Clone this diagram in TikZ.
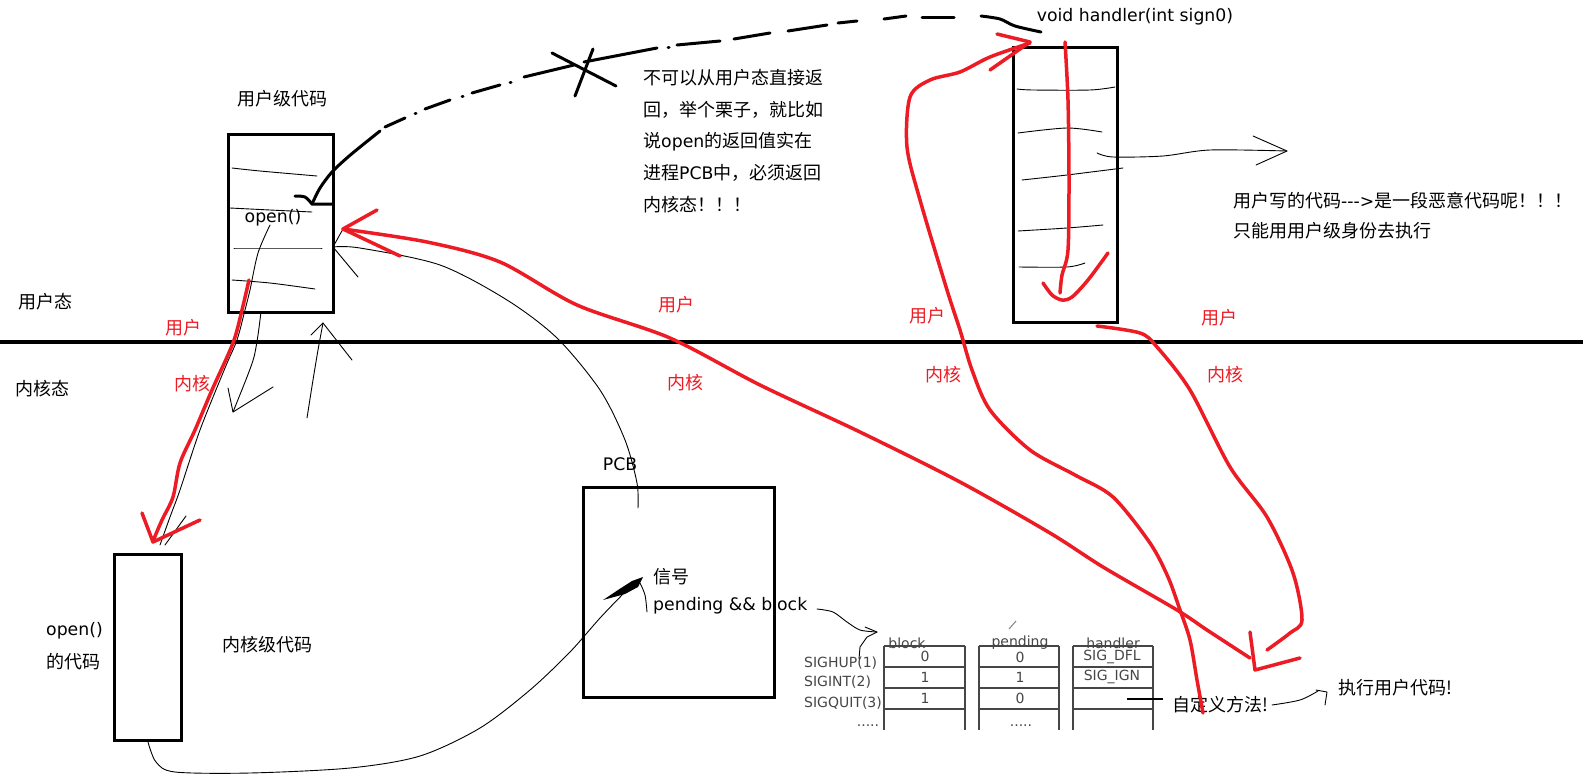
\documentclass[tikz,border=0pt]{standalone}
\usepackage{fontspec}
\setmainfont{Noto Sans CJK SC}
\newfontfamily\lat[Scale=0.96]{DejaVu Sans}
\newfontfamily\tabfont{DejaVu Sans}
\definecolor{pred}{RGB}{237,28,36}
\definecolor{tgray}{RGB}{70,70,70}
\begin{document}
\begin{tikzpicture}[x=1pt,y=-1pt,
  txt/.style={font=\fontsize{18}{22}\selectfont, inner sep=0pt},
  rtxt/.style={txt, text=pred},
  box/.style={draw, line width=3pt, inner sep=0pt, fill=none},
  thinl/.style={line width=0.9pt, line cap=round, line join=round},
  redl/.style={draw=pred, line width=3.5pt, line cap=round, line join=round},
  blk/.style={line width=3pt, line cap=round, line join=round},
  tabl/.style={draw=tgray, line width=2pt},
  ttxt/.style={font=\tabfont\fontsize{14}{16}\selectfont, text=tgray, inner sep=0pt}]

\useasboundingbox (0,0) rectangle (1583,777);
\fill[white] (0,0) rectangle (1583,777);

% divider
\coordinate (L) at (0,342);
\coordinate (R) at (1583,342);
\draw[line width=4pt] (L) -- (R);

% boxes
\node[box, minimum width=105pt, minimum height=178pt] (ubox) at (280.5,223) {};
\node[box, minimum width=67pt, minimum height=186pt] (kbox) at (147.5,647) {};
\node[box, minimum width=191pt, minimum height=210pt] (pcb) at (678.5,592) {};
\node[box, minimum width=104pt, minimum height=275pt] (hbox) at (1065,184.5) {};

% user box inner lines
\draw[thinl] plot[smooth] coordinates {(232,168) (260,171) (317,176)};
\draw[thinl] plot[smooth] coordinates {(230,208) (270,210) (312,212)};
\draw[thinl] plot[smooth] coordinates {(234,248) (280,248) (322,248)};
\draw[thinl] plot[smooth] coordinates {(232,280) (270,283) (315,289)};

% handler box inner lines
\draw[thinl] plot[smooth] coordinates {(1017,89) (1033,90) (1090,90) (1115,87)};
\draw[thinl] plot[smooth] coordinates {(1018,133) (1067,128) (1102,132)};
\draw[thinl] plot[smooth] coordinates {(1022,180) (1067,175) (1123,168)};
\draw[thinl] plot[smooth] coordinates {(1018,231) (1067,228) (1103,225)};
\draw[thinl] plot[smooth] coordinates {(1019,267) (1067,267) (1085,263)};

% texts
\node[txt] (tuser) at (45,302) {用户态};
\node[txt] (tkern) at (42,389) {内核态};
\node[txt] (tulevel) at (282,99) {用户级代码};
\node[txt] (topen) at (273,218) {\lat open()};
\node[txt, anchor=west] (kopen) at (46,631) {\lat open()};
\node[txt, anchor=west] (kcode) at (46,662) {的代码};
\node[txt] (klevel) at (267,645) {内核级代码};
\node[txt] (pcbl) at (620,464) {\lat PCB};
\node[txt, anchor=west] (sig) at (653,577) {信号};
\node[txt, anchor=west] (pb) at (653,606) {\lat pending \&\& block};
\node[txt] (void) at (1135,17) {\lat void handler(int sign0)};
\node[txt, anchor=west] (m1) at (643,78) {不可以从用户态直接返};
\node[txt, anchor=west] (m2) at (643,110) {回，举个栗子，就比如};
\node[txt, anchor=west] (m3) at (643,142) {说{\lat open}的返回值实在};
\node[txt, anchor=west] (m4) at (643,173) {进程{\lat PCB}中，必须返回};
\node[txt, anchor=west] (m5) at (643,205) {内核态！！！};
\node[txt, anchor=west] (r1) at (1233,201) {用户写的代码{\lat{-}{-}{-}>}是一段恶意代码呢！！！};
\node[txt, anchor=west] (r2) at (1233,231) {只能用用户级身份去执行};
\node[txt, anchor=west] (zdy) at (1172,705) {自定义方法!};
\node[txt, anchor=west] (zx) at (1338,688) {执行用户代码!};

% red labels
\node[rtxt] (u1) at (183,328) {用户};
\node[rtxt] (k1) at (192,384) {内核};
\node[rtxt] (u2) at (676,305) {用户};
\node[rtxt] (k2) at (685,383) {内核};
\node[rtxt] (u3) at (927,316) {用户};
\node[rtxt] (k3) at (943,375) {内核};
\node[rtxt] (u4) at (1219,318) {用户};
\node[rtxt] (k4) at (1225,375) {内核};

% table
\node[ttxt] (hb) at (907,643) {block};
\node[ttxt] (hp) at (1020,643) {pending};
\node[ttxt] (hh) at (1113,643) {handler};
\foreach \x/\w in {884/965, 979/1059, 1073/1153}{
  \foreach \y in {646,667,688,709}{ \draw[tabl] (\x,\y) -- (\w,\y); }
  \draw[tabl] (\x,646) -- (\x,730);
  \draw[tabl] (\w,646) -- (\w,730);
}
\node[ttxt, anchor=west] (s1) at (804,663) {SIGHUP(1)};
\node[ttxt, anchor=west] (s2) at (804,682) {SIGINT(2)};
\node[ttxt, anchor=west] (s3) at (804,703) {SIGQUIT(3)};
\node[ttxt] (d1) at (868,726) {.....};
\node[ttxt] (d2) at (1021,726) {.....};
\node[ttxt] (b1) at (925,656) {0};
\node[ttxt] (b2) at (925,677) {1};
\node[ttxt] (b3) at (925,698) {1};
\node[ttxt] (p1) at (1020,657) {0};
\node[ttxt] (p2) at (1020,677) {1};
\node[ttxt] (p3) at (1020,698) {0};
\node[ttxt] (h1) at (1112,657) {SIG\_DFL};
\node[ttxt] (h2) at (1112,677) {SIG\_IGN};
\draw[draw=gray, line width=1pt] (1009,629) -- (1016,621);

% thin black connectors
\coordinate (ta) at (270,225);
\coordinate (tb) at (160,545);
\draw[thinl] plot[smooth] coordinates {(ta) (258,253) (250,290) (245,310) (237,340) (225,368) (200,430) (180,490) (170,517) (tb)};
\draw[thinl] (186,516) -- (165,545);

\coordinate (dn1) at (261,312);
\coordinate (dn2) at (233,412);
\draw[thinl] plot[smooth] coordinates {(dn1) (258,335) (254,357) (247,377) (dn2)};
\draw[thinl] (228,388) -- (dn2) -- (273,387);

\coordinate (up1) at (307,418);
\coordinate (up2) at (323,323);
\draw[thinl] plot[smooth] coordinates {(up1) (313,380) (318,350) (up2)};
\draw[thinl] (311,335) -- (up2) -- (352,360);

\coordinate (pa) at (333,247);
\coordinate (pb2) at (638,508);
\draw[thinl] plot[smooth] coordinates {(pa) (360,248) (440,265) (507,300) (557,338) (600,390) (625,440) (637,483) (pb2)};
\draw[thinl] (343,229) -- (pa) -- (358,277);

\coordinate (ka) at (148,742);
\coordinate (kb) at (625,592);
\draw[thinl] plot[smooth] coordinates {(ka) (156,762) (175,772) (250,773) (350,768) (420,756) (480,728) (530,690) (570,652) (600,618) (kb)};
\fill (603,600) -- (618,590) -- (632,581) -- (643,577) -- (638,587) -- (625,594) -- cycle;
\draw[thinl] plot[smooth] coordinates {(640,583) (645,595) (647,612)};

\coordinate (pe) at (817,609);
\coordinate (te) at (877,632);
\draw[thinl] plot[smooth] coordinates {(pe) (833,612) (847,622) (860,630) (te)};
\draw[thinl] (865,627) -- (te) -- (867,637) -- (860,647) -- (859,659);

\coordinate (ha) at (1097,153);
\coordinate (hb2) at (1287,151);
\draw[thinl] plot[smooth] coordinates {(ha) (1113,157) (1163,156) (1210,150) (hb2)};
\draw[thinl] (1253,136) -- (hb2) -- (1256,165);

\draw[line width=2pt] (1127,699) -- (1163,699);

\coordinate (za) at (1272,705);
\coordinate (zb) at (1327,692);
\draw[thinl] plot[smooth] coordinates {(za) (1300,700) (1318,691)};
\draw[thinl] (1316,690) -- (zb) -- (1325,705);

% thick black dashed return path
\draw[blk] plot[smooth] coordinates {(295,196) (305,197) (312,204)} -- (333,204);
\draw[blk] plot[smooth] coordinates {(312,204) (320,188) (332,172) (348,157) (365,143) (380,131)};
\draw[blk] (385,127) -- (405,118);
\draw[blk] (415,113) -- (416,113);
\draw[blk] (425,109) -- (450,100);
\draw[blk] (462,96) -- (463,96);
\draw[blk] (472,93) -- (500,85);
\draw[blk] (510,82) -- (511,82);
\draw[blk] (524,77) -- (574,65);
\draw[blk] (584,62) -- (657,48);
\draw[blk] (668,47) -- (669,47);
\draw[blk] (677,45) -- (720,41);
\draw[blk] (734,39) -- (770,33);
\draw[blk] (788,31) -- (827,25);
\draw[blk] (838,23) -- (857,21);
\draw[blk] (884,19) -- (906,16);
\draw[blk] (922,17) -- (954,17);
\draw[blk] plot[smooth] coordinates {(981,16) (1000,19) (1015,26) (1041,32)};
\draw[blk] (552,53) -- (616,86);
\draw[blk] (593,49) -- (575,96);

% red paths
\draw[redl] plot[smooth] coordinates {(249,280) (242,310) (233,343) (212,390) (195,430) (180,463) (173,497) (162,520) (153,541)};
\draw[redl] (142,513) -- (153,542) -- (200,520);

\draw[redl] plot[smooth] coordinates {(1250,658) (1207,630) (1177,610) (1103,567) (1050,533) (960,482) (860,432) (760,385) (670,338) (577,305) (500,262) (427,242) (343,229)};
\draw[redl] (377,210) -- (343,229) -- (400,256);

\draw[redl] plot[smooth] coordinates {(1203,713) (1197,680) (1190,640) (1180,610) (1168,577) (1150,543) (1113,497) (1075,475) (1030,450) (990,410) (972,370) (960,330) (947,290) (920,200) (907,147) (910,97) (930,80) (960,72) (990,57) (1030,43)};
\draw[redl] (997,34) -- (1030,42) -- (990,70);

\draw[redl] plot[smooth] coordinates {(1065,42) (1068,100) (1069,180) (1068,250) (1062,275) (1060,293)};
\draw[redl] plot[smooth] coordinates {(1043,283) (1052,295) (1062,300) (1072,297) (1088,280) (1108,253)};

\draw[redl] plot[smooth] coordinates {(1097,326) (1140,333) (1157,347) (1190,390) (1230,467) (1267,517) (1293,573) (1302,620) (1290,633) (1267,650)};
\draw[redl] (1250,632) -- (1255,670) -- (1300,658);
\end{tikzpicture}
\end{document}
